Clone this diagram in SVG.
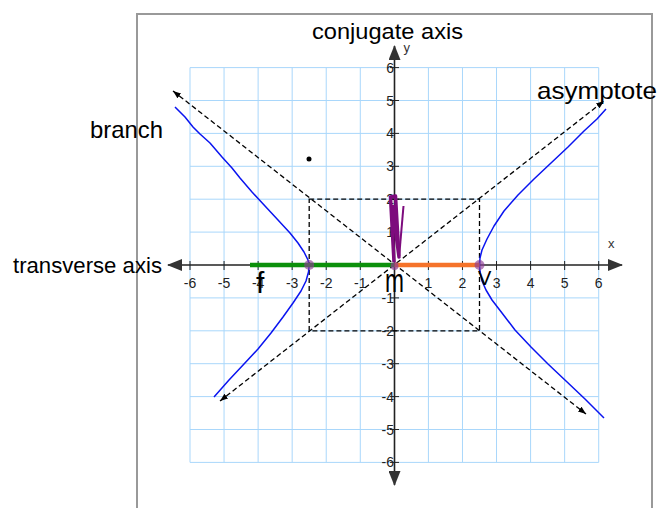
<svg xmlns="http://www.w3.org/2000/svg" width="669" height="508" viewBox="0 0 669 508">
<style>
.grid line{stroke:#a9d7fb;stroke-width:1}
.tick{font-family:"Liberation Sans",Arial,sans-serif;font-size:14px;fill:#222}
.tx{text-anchor:middle}
.ty{text-anchor:end}
.lbl{font-family:"Liberation Sans",Arial,sans-serif;fill:#000}
.dash{stroke:#000;stroke-width:1.3;stroke-dasharray:5,3;fill:none}
.hyp{stroke:#0a14f0;stroke-width:1.5;fill:none;stroke-linejoin:round}
.axis{stroke:#222;stroke-width:1.6}
</style>
<defs>
<marker id="axArrow" viewBox="0 0 15 12" refX="14" refY="6" markerWidth="15" markerHeight="12" markerUnits="userSpaceOnUse" orient="auto-start-reverse">
<path d="M0,0 L15,6 L0,12 z" fill="#333"/>
</marker>
<marker id="smArrow" viewBox="0 0 8 6" refX="8" refY="3" markerWidth="8" markerHeight="6" markerUnits="userSpaceOnUse" orient="auto-start-reverse">
<path d="M0,0 L8,3 L0,6 z" fill="#000"/>
</marker>
</defs>
<rect x="0" y="0" width="669" height="508" fill="#fff"/>
<rect id="frame" x="137" y="14" width="515" height="520" fill="#fff" stroke="#999" stroke-width="2"/>
<g id="grid" class="grid">
<line x1="190" y1="67.6" x2="190" y2="462.4"/>
<line x1="224.05" y1="67.6" x2="224.05" y2="462.4"/>
<line x1="258.11" y1="67.6" x2="258.11" y2="462.4"/>
<line x1="292.17" y1="67.6" x2="292.17" y2="462.4"/>
<line x1="326.23" y1="67.6" x2="326.23" y2="462.4"/>
<line x1="360.29" y1="67.6" x2="360.29" y2="462.4"/>
<line x1="428.41" y1="67.6" x2="428.41" y2="462.4"/>
<line x1="462.47" y1="67.6" x2="462.47" y2="462.4"/>
<line x1="496.53" y1="67.6" x2="496.53" y2="462.4"/>
<line x1="530.59" y1="67.6" x2="530.59" y2="462.4"/>
<line x1="564.65" y1="67.6" x2="564.65" y2="462.4"/>
<line x1="598.71" y1="67.6" x2="598.71" y2="462.4"/>
<line x1="190" y1="67.6" x2="598.71" y2="67.6"/>
<line x1="190" y1="100.5" x2="598.71" y2="100.5"/>
<line x1="190" y1="133.4" x2="598.71" y2="133.4"/>
<line x1="190" y1="166.3" x2="598.71" y2="166.3"/>
<line x1="190" y1="199.2" x2="598.71" y2="199.2"/>
<line x1="190" y1="232.1" x2="598.71" y2="232.1"/>
<line x1="190" y1="297.9" x2="598.71" y2="297.9"/>
<line x1="190" y1="330.8" x2="598.71" y2="330.8"/>
<line x1="190" y1="363.7" x2="598.71" y2="363.7"/>
<line x1="190" y1="396.6" x2="598.71" y2="396.6"/>
<line x1="190" y1="429.5" x2="598.71" y2="429.5"/>
<line x1="190" y1="462.4" x2="598.71" y2="462.4"/>
</g>
<g id="axes">
<line class="axis" x1="168" y1="265" x2="622" y2="265" marker-start="url(#axArrow)" marker-end="url(#axArrow)"/>
<line class="axis" x1="394.5" y1="46" x2="394.5" y2="485" marker-start="url(#axArrow)" marker-end="url(#axArrow)"/>
<g stroke="#222" stroke-width="1">
<path d="M190,261V270M224.05,261V270M258.11,261V270M292.17,261V270M326.23,261V270M360.29,261V270M428.41,261V270M462.47,261V270M496.53,261V270M530.59,261V270M564.65,261V270M598.71,261V270"/>
<path d="M390,67.6H399M390,100.5H399M390,133.4H399M390,166.3H399M390,199.2H399M390,232.1H399M390,297.9H399M390,330.8H399M390,363.7H399M390,396.6H399M390,429.5H399M390,462.4H399"/>
</g>
<g class="tick tx">
<text x="190" y="288">-6</text>
<text x="224.05" y="288">-5</text>
<text x="258.11" y="288">-4</text>
<text x="292.17" y="288">-3</text>
<text x="326.23" y="288">-2</text>
<text x="360.29" y="288">-1</text>
<text x="428.41" y="288">1</text>
<text x="462.47" y="288">2</text>
<text x="496.53" y="288">3</text>
<text x="530.59" y="288">4</text>
<text x="564.65" y="288">5</text>
<text x="598.71" y="288">6</text>
</g>
<g class="tick ty">
<text x="394" y="72.6">6</text>
<text x="394" y="105.5">5</text>
<text x="394" y="138.4">4</text>
<text x="394" y="171.3">3</text>
<text x="394" y="204.2">2</text>
<text x="394" y="237.1">1</text>
<text x="394" y="302.9">-1</text>
<text x="394" y="335.8">-2</text>
<text x="394" y="368.7">-3</text>
<text x="394" y="401.6">-4</text>
<text x="394" y="434.5">-5</text>
<text x="394" y="467.4">-6</text>
</g>
<text x="608" y="248" font-family="Liberation Sans,Arial,sans-serif" font-size="13" fill="#333">x</text>
<text x="403.5" y="52" font-family="Liberation Sans,Arial,sans-serif" font-size="13" fill="#333">y</text>
</g>
<g id="connectors">
<rect id="box" class="dash" x="309.2" y="199.2" width="170.3" height="131.6"/>
<line id="asymptote1" class="dash" x1="173" y1="91" x2="586" y2="414" marker-start="url(#smArrow)" marker-end="url(#smArrow)"/>
<line id="asymptote2" class="dash" x1="220" y1="401" x2="604" y2="101" marker-start="url(#smArrow)" marker-end="url(#smArrow)"/>
</g>
<g id="hyperbola">
<polyline class="hyp" points="175,107 185,117 193,127 200,134 210,143 222,157 232,168 240,178 252,192 265,206 278,220 290,233 298,243 304,252 308,260 309.2,265 308.5,272 306,281 301,291 293,303 283,317 271,333 258,349 244,364 229,380 214,397"/>
<polyline class="hyp" points="606,109 597,119 584,131 568,147 551,163 534,179 518,195 504,211 494,226 487,239 482,250 480,258 479.5,265 480,272 482,281 486,290 492,300 502,313 515,330 531,347 548,364 566,381 585,399 604,418"/>
</g>
<g id="segments">
<line x1="250" y1="265" x2="394.5" y2="265" stroke="#0b900b" stroke-width="4.5"/>
<line x1="394.5" y1="265" x2="479.5" y2="265" stroke="#f5732a" stroke-width="4.5"/>
<circle cx="309.2" cy="265" r="5" fill="#8d3e95" fill-opacity="0.65"/>
<circle cx="479.5" cy="265" r="5" fill="#8d3e95" fill-opacity="0.65"/>
<circle cx="394.5" cy="266" r="4" fill="#8d3e95" fill-opacity="0.7"/>
<path d="M394,262 L390.5,197 L395.5,196 L399,257 L396.5,238 L393,205" fill="none" stroke="#7d0b7d" stroke-width="3.5" stroke-linejoin="round"/>
<path d="M399,258 L403.5,206" fill="none" stroke="#7d0b7d" stroke-width="2"/>
<circle cx="309" cy="159" r="2.5" fill="#000"/>
</g>
<g id="labels" class="lbl">
<text x="13" y="273" font-size="22" textLength="149" lengthAdjust="spacingAndGlyphs">transverse axis</text>
<text x="90" y="138" font-size="24" textLength="73" lengthAdjust="spacingAndGlyphs">branch</text>
<text x="312" y="39" font-size="22" textLength="151" lengthAdjust="spacingAndGlyphs">conjugate axis</text>
<text x="537" y="99" font-size="24" textLength="120" lengthAdjust="spacingAndGlyphs">asymptote</text>
<text x="256" y="293" font-size="30">f</text>
<text transform="translate(385,292) scale(0.95,1.35)" font-size="24">m</text>
<text x="478" y="285" font-size="20">V</text>
</g>
</svg>
